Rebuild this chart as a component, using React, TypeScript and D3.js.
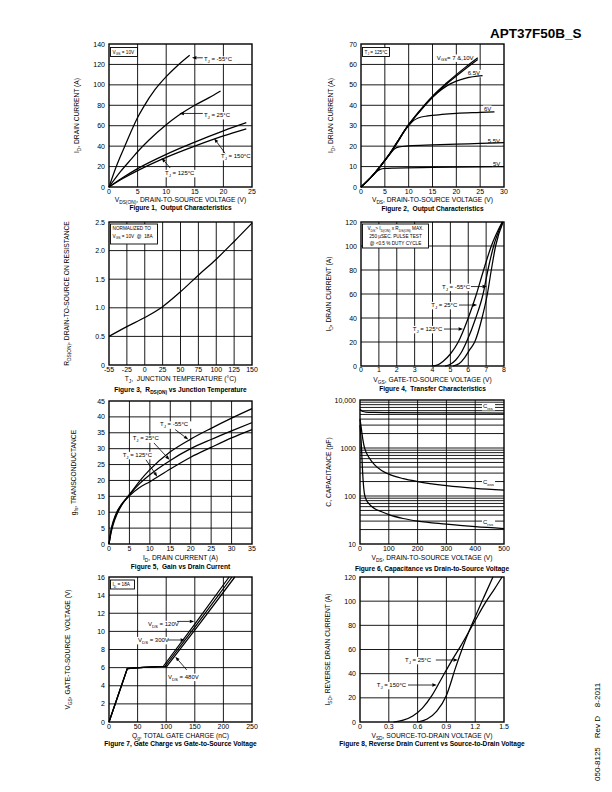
import React from 'react';
import * as d3 from 'd3';

type Pt = [number, number];

const FONT = "'Liberation Sans', Arial, Helvetica, sans-serif";

// ---------------- Figure 1 : Output characteristics (VGS = 10V)
const f1XTicks = [0, 5, 10, 15, 20, 25];
const f1YTicks = [0, 20, 40, 60, 80, 100, 120, 140];
const f1TjM55: Pt[] = [[0, 0], [1, 16], [2, 30], [3, 43], [4, 56], [5, 68], [6, 78], [8, 95], [10, 108], [12, 119], [14.1, 129]];
const f1Tj25: Pt[] = [[0, 0], [2, 15], [4, 28], [5, 34.5], [7, 46], [10, 61], [12, 69.5], [15, 80], [17.5, 87.5], [19.5, 94]];
const f1Tj125: Pt[] = [[0, 0], [2.5, 9.5], [5, 18], [10, 32], [15, 44], [20, 55], [24, 63]];
const f1Tj150: Pt[] = [[0, 0], [2.5, 8.5], [5, 16], [10, 29], [15, 40], [20, 50], [24, 57]];

// ---------------- Figure 2 : Output characteristics (TJ = 125C)
const f2XTicks = [0, 5, 10, 15, 20, 25, 30];
const f2YTicks = [0, 10, 20, 30, 40, 50, 60, 70];
const f2Vgs10: Pt[] = [[0, 0], [2, 4.5], [4, 10], [6, 16.2], [8, 23.5], [10, 30.5], [12, 36.5], [15, 44.5], [18, 51], [20, 55], [22, 58.8], [24.5, 63.3]];
const f2Vgs7: Pt[] = [[0, 0], [2, 4.5], [4, 10], [6, 16.2], [8, 23.5], [10, 30.5], [12, 36.3], [15, 44], [18, 50.5], [20, 54.3], [22, 58], [24.5, 62.4]];
const f2Vgs65: Pt[] = [[0, 0], [2, 4.5], [4, 10], [6, 16.2], [8, 23.5], [10, 30.5], [12, 36], [14, 41.5], [16, 46], [18, 49.5], [20, 51.8], [22, 53.3], [25.5, 54.5]];
const f2Vgs6: Pt[] = [[0, 0], [2, 4.5], [4, 10], [6, 16], [8, 23], [9, 27], [10, 30], [11, 32.5], [12, 33.8], [14, 34.8], [17, 35.5], [20, 36], [25, 36.5], [28, 36.8]];
const f2Vgs55: Pt[] = [[0, 0], [2, 4.5], [4, 10], [5, 13], [6, 16], [7, 18.6], [8, 19.6], [10, 20.1], [15, 20.6], [20, 21], [25, 21.3], [30, 21.7]];
const f2Vgs5: Pt[] = [[0, 0], [2, 4.5], [3, 7], [4, 8.6], [5, 9.1], [7, 9.3], [15, 9.6], [30, 10]];

// ---------------- Figure 3 : RDS(ON) vs junction temperature
const f3XTicks = [-55, -25, 0, 25, 50, 75, 100, 125, 150];
const f3XLabels = ['-55', '-25', '0', '25', '50', '75', '100', '125', '150'];
const f3YTicks = [0, 0.5, 1.0, 1.5, 2.0, 2.5];
const f3YLabels = ['0', '0.5', '1.0', '1.5', '2.0', '2.5'];
const f3Rds: Pt[] = [[-55, 0.5], [-25, 0.67], [0, 0.83], [25, 1.02], [50, 1.28], [75, 1.57], [100, 1.85], [125, 2.16], [150, 2.48]];

// ---------------- Figure 4 : Transfer characteristics
const f4XTicks = [0, 1, 2, 3, 4, 5, 6, 7, 8];
const f4YTicks = [0, 20, 40, 60, 80, 100, 120];
const f4Tj125: Pt[] = [[3.95, 0], [4.3, 1], [4.6, 4], [5, 10], [5.44, 20], [6, 40], [6.46, 60], [6.86, 80], [7.29, 100], [7.9, 120]];
const f4Tj25: Pt[] = [[4.7, 0], [5.0, 1.5], [5.3, 5], [5.6, 11], [5.9, 20], [6.42, 40], [6.83, 60], [7.1, 80], [7.42, 100], [7.92, 120]];
const f4TjM55: Pt[] = [[5.15, 0], [5.5, 2], [5.8, 7], [6.1, 14], [6.36, 20], [6.77, 40], [7.07, 60], [7.29, 80], [7.53, 100], [7.95, 120]];

// ---------------- Figure 5 : Gain vs drain current
const f5XTicks = [0, 5, 10, 15, 20, 25, 30, 35];
const f5YTicks = [0, 5, 10, 15, 20, 25, 30, 35, 40, 45];
const f5TjM55: Pt[] = [[0, 0], [0.5, 3.5], [1, 6], [2, 9.5], [3, 12], [5, 15.5], [7.5, 19.8], [10, 23.4], [15, 29], [20, 33], [25, 36.4], [30, 39.6], [35, 42.6]];
const f5Tj25: Pt[] = [[0, 0], [0.5, 4], [1, 6.5], [2, 10], [3, 12.3], [5, 15.5], [7.5, 19], [10, 21.8], [15, 26.3], [20, 30], [25, 32.9], [30, 35.6], [35, 38.2]];
const f5Tj125: Pt[] = [[0, 0], [0.5, 4.5], [1, 7], [2, 10.3], [3, 12.3], [5, 15.2], [7.5, 17.8], [10, 19.6], [15, 23.6], [20, 27.3], [25, 30.4], [30, 33.4], [35, 36]];

// ---------------- Figure 6 : Capacitance vs drain-to-source voltage
const f6XTicks = [0, 100, 200, 300, 400, 500];
const f6YTicks = [10, 100, 1000, 10000];
const f6YLabels = ['10', '100', '1000', '10,000'];
const f6Ciss: Pt[] = [[0, 6400], [5, 6000], [10, 5750], [20, 5600], [50, 5500], [100, 5450], [300, 5400], [500, 5350]];
const f6Coss: Pt[] = [[0, 4000], [3, 3000], [6, 2200], [10, 1500], [15, 1050], [20, 850], [30, 650], [50, 450], [75, 340], [100, 285], [150, 230], [200, 200], [300, 165], [400, 145], [500, 133]];
const f6Crss: Pt[] = [[0, 3000], [3, 1800], [6, 800], [9, 320], [12, 170], [15, 115], [20, 88], [30, 70], [50, 55], [75, 47], [100, 41], [150, 34], [200, 30], [300, 26], [400, 23], [500, 21]];

// ---------------- Figure 7 : Gate charge
const f7XTicks = [0, 50, 100, 150, 200, 250];
const f7YTicks = [0, 2, 4, 6, 8, 10, 12, 14, 16];
const f7Vds120: Pt[] = [[0, 0], [32, 5.9], [60, 6.02], [95, 6.15], [150, 10.8], [210, 16]];
const f7Vds300: Pt[] = [[0, 0], [32, 5.9], [60, 6.02], [98, 6.15], [154, 10.8], [215, 16]];
const f7Vds480: Pt[] = [[0, 0], [32, 5.9], [60, 6.02], [101, 6.15], [158, 10.8], [220, 16]];

// ---------------- Figure 8 : Reverse drain current
const f8XTicks = [0, 0.3, 0.6, 0.9, 1.2, 1.5];
const f8XLabels = ['0', '0.3', '0.6', '0.9', '1.2', '1.5'];
const f8YTicks = [0, 20, 40, 60, 80, 100, 120];
const f8Tj25: Pt[] = [[0.6, 0], [0.7, 2.5], [0.8, 9], [0.9, 22], [1.0, 46], [1.1, 68], [1.2, 87], [1.3, 105], [1.385, 120]];
const f8Tj150: Pt[] = [[0.35, 0], [0.45, 1.5], [0.55, 5], [0.65, 11.5], [0.75, 22], [0.85, 36], [0.95, 50], [1.05, 63], [1.2, 84], [1.3, 98], [1.4, 110], [1.48, 120]];

// ---------------------------------------------------------------
function Rich(props: { x: number; y: number; text: string; size: number; anchor?: string; weight?: string | number; rotate?: number }) {
  const { x, y, text, size, anchor = 'start', weight = 'normal', rotate = 0 } = props;
  const parts = text.split(/(_\{[^}]*\})/).filter((s) => s.length > 0);
  const shift = size * 0.32;
  let sub = false;
  const spans = parts.map((p, i) => {
    const isSub = p.startsWith('_{');
    const t = isSub ? p.slice(2, -1) : p;
    let dy = 0;
    if (isSub && !sub) dy = shift;
    else if (!isSub && sub) dy = -shift;
    sub = isSub;
    return (
      <tspan key={i} dy={dy} fontSize={isSub ? size * 0.72 : size}>
        {t}
      </tspan>
    );
  });
  return (
    <text
      x={x}
      y={y}
      fontSize={size}
      fontFamily={FONT}
      fontWeight={weight as any}
      textAnchor={anchor as any}
      transform={rotate ? `rotate(${rotate} ${x} ${y})` : undefined}
      fill="#000"
      style={{ whiteSpace: 'pre' }}
    >
      {spans}
    </text>
  );
}

function textWidth(text: string, size: number) {
  let w = 0;
  const parts = text.split(/(_\{[^}]*\})/).filter((s) => s.length > 0);
  parts.forEach((p) => {
    if (p.startsWith('_{')) w += p.slice(2, -1).length * 0.6 * size * 0.72;
    else w += p.length * 0.55 * size;
  });
  return w;
}

function Arrow({ x1, y1, x2, y2 }: { x1: number; y1: number; x2: number; y2: number }) {
  const a = Math.atan2(y2 - y1, x2 - x1);
  const L = 4.5;
  const W = 1.7;
  const bx = x2 - L * Math.cos(a);
  const by = y2 - L * Math.sin(a);
  const pts = `${x2},${y2} ${bx - W * Math.sin(a)},${by + W * Math.cos(a)} ${bx + W * Math.sin(a)},${by - W * Math.cos(a)}`;
  return (
    <g>
      <line x1={x1} y1={y1} x2={bx} y2={by} stroke="#000" strokeWidth={0.8} />
      <polygon points={pts} fill="#000" />
    </g>
  );
}

interface Ann {
  text: string;
  at: Pt;
  tail?: Pt;
  head?: Pt;
}

interface PanelCfg {
  frame: [number, number, number, number];
  xScale: (r: [number, number]) => any;
  yScale: (r: [number, number]) => any;
  xGrid: number[];
  yGrid: number[];
  xTicks: number[];
  xLabels: string[];
  yTicks: number[];
  yLabels: string[];
  curves: Pt[][];
  smooth?: boolean;
  anns: Ann[];
  legend?: { lines: string[]; w: number; h: number; center?: boolean; dy?: number };
  xTitle: string;
  yTitle: string;
  yTitleX: number;
  title: string;
  tickDy: number;
  xTitleDy: number;
  titleDy: number;
}

function Panel({ cfg }: { cfg: PanelCfg }) {
  const [x0, y0, x1, y1] = cfg.frame;
  const xs = cfg.xScale([x0, x1]);
  const ys = cfg.yScale([y1, y0]);
  const line = d3
    .line<Pt>()
    .x((d) => xs(d[0]))
    .y((d) => ys(d[1]))
    .curve(cfg.smooth === false ? d3.curveLinear : d3.curveMonotoneX);
  const cx = (x0 + x1) / 2;
  const cy = (y0 + y1) / 2;
  const annSize = 6;
  return (
    <g>
      {cfg.xGrid.map((v, i) => (
        <line key={'gx' + i} x1={xs(v)} x2={xs(v)} y1={y0} y2={y1} stroke="#000" strokeWidth={0.9} />
      ))}
      {cfg.yGrid.map((v, i) => (
        <line key={'gy' + i} x1={x0} x2={x1} y1={ys(v)} y2={ys(v)} stroke="#000" strokeWidth={0.9} />
      ))}
      {cfg.anns.map((a, i) => {
        const tx = xs(a.at[0]);
        const ty = ys(a.at[1]);
        const w = textWidth(a.text, annSize);
        return (
          <g key={'an' + i}>
            <rect x={tx - 1} y={ty - annSize * 0.85} width={w + 2} height={annSize * 1.25} fill="#fff" />
            <Rich x={tx} y={ty} text={a.text} size={annSize} />
          </g>
        );
      })}
      {cfg.curves.map((c, i) => (
        <path key={'c' + i} d={line(c) || ''} fill="none" stroke="#000" strokeWidth={1.25} />
      ))}
      {cfg.anns.map((a, i) =>
        a.tail && a.head ? (
          <Arrow key={'ar' + i} x1={xs(a.tail[0])} y1={ys(a.tail[1])} x2={xs(a.head[0])} y2={ys(a.head[1])} />
        ) : null
      )}
      <rect x={x0} y={y0} width={x1 - x0} height={y1 - y0} fill="none" stroke="#000" strokeWidth={1.4} />
      {cfg.legend && (
        <g>
          <rect x={x0 + 1.5} y={y0 + (cfg.legend.dy ?? 3)} width={cfg.legend.w} height={cfg.legend.h} fill="#fff" stroke="#000" strokeWidth={0.9} />
          {cfg.legend.lines.map((l, i) => (
            <Rich
              key={'lg' + i}
              x={cfg.legend!.center ? x0 + 1.5 + cfg.legend!.w / 2 : x0 + 3.5}
              y={y0 + (cfg.legend!.dy ?? 3) + 6 + i * 7.5}
              text={l}
              size={4.7}
              anchor={cfg.legend!.center ? 'middle' : 'start'}
            />
          ))}
        </g>
      )}
      {cfg.xTicks.map((v, i) => (
        <text key={'xt' + i} x={xs(v)} y={y1 + cfg.tickDy} fontSize={7} fontFamily={FONT} textAnchor="middle">
          {cfg.xLabels[i]}
        </text>
      ))}
      {cfg.yTicks.map((v, i) => (
        <text key={'yt' + i} x={x0 - 4} y={ys(v) + 2.5} fontSize={7} fontFamily={FONT} textAnchor="end">
          {cfg.yLabels[i]}
        </text>
      ))}
      <Rich x={cx} y={y1 + cfg.xTitleDy} text={cfg.xTitle} size={6.7} anchor="middle" />
      <Rich x={cfg.yTitleX} y={cy} text={cfg.yTitle} size={6.7} anchor="middle" rotate={-90} />
      <Rich x={cx} y={y1 + cfg.titleDy} text={cfg.title} size={6.6} anchor="middle" weight="bold" />
    </g>
  );
}

const lin = (dom: [number, number]) => (r: [number, number]) => d3.scaleLinear().domain(dom).range(r);
const str = (a: number[]) => a.map((v) => String(v));
const inner = (a: number[]) => a.slice(1, -1);

const panels: PanelCfg[] = [
  {
    frame: [109, 44, 252, 187],
    xScale: lin([0, 25]),
    yScale: lin([0, 140]),
    xGrid: inner(f1XTicks),
    yGrid: inner(f1YTicks),
    xTicks: f1XTicks,
    xLabels: str(f1XTicks),
    yTicks: f1YTicks,
    yLabels: str(f1YTicks),
    curves: [f1TjM55, f1Tj25, f1Tj125, f1Tj150],
    anns: [
      { text: 'T_{J} = -55°C', at: [16.6, 123], tail: [16.4, 126.5], head: [14.5, 126.5] },
      { text: 'T_{J} = 25°C', at: [16.6, 68.5], tail: [16.4, 72], head: [12.3, 72] },
      { text: 'T_{J} = 150°C', at: [19.6, 28.4], tail: [20.3, 33], head: [18.4, 47.5] },
      { text: 'T_{J} = 125°C', at: [9.8, 11.8], tail: [10.7, 18.6], head: [9.2, 28.5] },
    ],
    legend: { lines: ['V_{GS} = 10V'], w: 27, h: 9, dy: 3.5 },
    xTitle: 'V_{DS(ON)}, DRAIN-TO-SOURCE VOLTAGE (V)',
    yTitle: 'I_{D}, DRAIN CURRENT (A)',
    yTitleX: 79,
    title: 'Figure 1,  Output Characteristics',
    tickDy: 7,
    xTitleDy: 14.5,
    titleDy: 22.5,
  },
  {
    frame: [361, 44, 504, 187],
    xScale: lin([0, 30]),
    yScale: lin([0, 70]),
    xGrid: inner(f2XTicks),
    yGrid: inner(f2YTicks),
    xTicks: f2XTicks,
    xLabels: str(f2XTicks),
    yTicks: f2YTicks,
    yLabels: str(f2YTicks),
    curves: [f2Vgs10, f2Vgs7, f2Vgs65, f2Vgs6, f2Vgs55, f2Vgs5],
    anns: [
      { text: 'V_{GS}= 7 &,10V', at: [15.9, 62.4] },
      { text: '6.5V', at: [22.4, 54.9] },
      { text: '6V', at: [25.8, 37.4] },
      { text: '5.5V', at: [26.6, 21.6] },
      { text: '5V', at: [27.7, 10.4] },
    ],
    legend: { lines: ['T_{J} = 125°C'], w: 27, h: 9, dy: 3.5 },
    xTitle: 'V_{DS}, DRAIN-TO-SOURCE VOLTAGE (V)',
    yTitle: 'I_{D}, DRIAN CURRENT (A)',
    yTitleX: 332.5,
    title: 'Figure 2,  Output Characteristics',
    tickDy: 7,
    xTitleDy: 14.5,
    titleDy: 23.5,
  },
  {
    frame: [109, 222, 252, 365],
    xScale: (r) => d3.scaleLinear().domain([-55, -25, 150]).range([r[0], r[0] + (r[1] - r[0]) / 8, r[1]]),
    yScale: lin([0, 2.5]),
    xGrid: inner(f3XTicks),
    yGrid: inner(f3YTicks),
    xTicks: f3XTicks,
    xLabels: f3XLabels,
    yTicks: f3YTicks,
    yLabels: f3YLabels,
    curves: [f3Rds],
    anns: [],
    legend: { lines: ['NORMALIZED TO', 'V_{GS} = 10V  @  18A'], w: 47, h: 20, dy: 2 },
    xTitle: 'T_{J},  JUNCTION TEMPERATURE (°C)',
    yTitle: 'R_{DS(ON)}, DRAIN-TO-SOURCE ON RESISTANCE',
    yTitleX: 69,
    title: 'Figure 3,  R_{DS(ON)} vs Junction Temperature',
    tickDy: 6.5,
    xTitleDy: 15.5,
    titleDy: 27,
  },
  {
    frame: [361, 222, 504, 366],
    xScale: lin([0, 8]),
    yScale: lin([0, 120]),
    xGrid: inner(f4XTicks),
    yGrid: inner(f4YTicks),
    xTicks: f4XTicks,
    xLabels: str(f4XTicks),
    yTicks: f4YTicks,
    yLabels: str(f4YTicks),
    curves: [f4Tj125, f4Tj25, f4TjM55],
    anns: [
      { text: 'T_{J} = -55°C', at: [4.53, 64.4], tail: [6.15, 66.2], head: [7.05, 66.2] },
      { text: 'T_{J} = 25°C', at: [3.93, 49.2], tail: [5.48, 50.8], head: [6.5, 50.8] },
      { text: 'T_{J} = 125°C', at: [2.9, 29.2], tail: [4.64, 30.8], head: [5.71, 30.8] },
    ],
    legend: { lines: ['V_{DS}> I_{D(ON)} x R_{DS(ON)} MAX.', '250 µSEC. PULSE TEST', '@ <0.5 % DUTY CYCLE'], w: 66, h: 24, center: true, dy: 2 },
    xTitle: 'V_{GS}, GATE-TO-SOURCE VOLTAGE (V)',
    yTitle: 'I_{D}, DRAIN CURRENT (A)',
    yTitleX: 330.5,
    title: 'Figure 4,  Transfer Characteristics',
    tickDy: 5.5,
    xTitleDy: 15.5,
    titleDy: 24.5,
  },
  {
    frame: [109, 401, 252, 544],
    xScale: lin([0, 35]),
    yScale: lin([0, 45]),
    xGrid: inner(f5XTicks),
    yGrid: inner(f5YTicks),
    xTicks: f5XTicks,
    xLabels: str(f5XTicks),
    yTicks: f5YTicks,
    yLabels: str(f5YTicks),
    curves: [f5TjM55, f5Tj25, f5Tj125],
    anns: [
      { text: 'T_{J} = -55°C', at: [12.5, 37.0], tail: [16.2, 36.0], head: [19.4, 32.9] },
      { text: 'T_{J} = 25°C', at: [5.8, 32.6], tail: [11.0, 31.8], head: [14.8, 26.5] },
      { text: 'T_{J} = 125°C', at: [3.35, 27.4], tail: [9.05, 26.5], head: [11.8, 21.2] },
    ],
    xTitle: 'I_{D}, DRAIN CURRENT (A)',
    yTitle: 'g_{fs}, TRANSCONDUCTANCE',
    yTitleX: 75.5,
    title: 'Figure 5,  Gain vs Drain Current',
    tickDy: 7,
    xTitleDy: 16,
    titleDy: 25,
  },
  {
    frame: [360, 400, 504, 544],
    xScale: lin([0, 500]),
    yScale: (r) => d3.scaleLog().domain([10, 10000]).range(r),
    xGrid: inner(f6XTicks),
    yGrid: d3.range(1, 4).flatMap((e) => d3.range(1, 10).map((m) => m * Math.pow(10, e))).filter((v) => v > 10),
    xTicks: f6XTicks,
    xLabels: str(f6XTicks),
    yTicks: f6YTicks,
    yLabels: f6YLabels,
    curves: [f6Ciss, f6Coss, f6Crss],
    anns: [
      { text: 'C_{iss}', at: [427, 6800] },
      { text: 'C_{oss}', at: [427, 178] },
      { text: 'C_{rss}', at: [427, 26] },
    ],
    xTitle: 'V_{DS}, DRAIN-TO-SOURCE VOLTAGE (V)',
    yTitle: 'C, CAPACITANCE (pF)',
    yTitleX: 330.5,
    title: 'Figure 6, Capacitance vs Drain-to-Source Voltage',
    tickDy: 7,
    xTitleDy: 16,
    titleDy: 26.5,
  },
  {
    frame: [109, 577, 252, 722],
    xScale: lin([0, 250]),
    yScale: lin([0, 16]),
    xGrid: inner(f7XTicks),
    yGrid: inner(f7YTicks),
    xTicks: f7XTicks,
    xLabels: str(f7XTicks),
    yTicks: f7YTicks,
    yLabels: str(f7YTicks),
    curves: [f7Vds120, f7Vds300, f7Vds480],
    smooth: false,
    anns: [
      { text: 'V_{DS} = 120V', at: [68, 10.6], tail: [119, 11.1], head: [149, 11.1] },
      { text: 'V_{DS} = 300V', at: [50.7, 8.83], tail: [103, 9.05], head: [133, 9.05] },
      { text: 'V_{DS} = 480V', at: [103, 4.78], tail: [136, 5.74], head: [116, 7.2] },
    ],
    legend: { lines: ['I_{D} = 18A'], w: 24, h: 9, dy: 3 },
    xTitle: 'Q_{g}, TOTAL GATE CHARGE (nC)',
    yTitle: 'V_{GS}, GATE-TO-SOURCE  VOLTAGE (V)',
    yTitleX: 69.5,
    title: 'Figure 7, Gate Charge vs Gate-to-Source Voltage',
    tickDy: 6.5,
    xTitleDy: 15.5,
    titleDy: 24,
  },
  {
    frame: [360, 577, 504, 722],
    xScale: lin([0, 1.5]),
    yScale: lin([0, 120]),
    xGrid: inner(f8XTicks),
    yGrid: inner(f8YTicks),
    xTicks: f8XTicks,
    xLabels: f8XLabels,
    yTicks: f8YTicks,
    yLabels: str(f8YTicks),
    curves: [f8Tj25, f8Tj150],
    anns: [
      { text: 'T_{J} = 25°C', at: [0.469, 49.7], tail: [0.79, 51.3], head: [1.02, 51.3] },
      { text: 'T_{J} = 150°C', at: [0.174, 29], tail: [0.5, 30.6], head: [0.8, 30.6] },
    ],
    xTitle: 'V_{SD}, SOURCE-TO-DRAIN VOLTAGE (V)',
    yTitle: 'I_{SD}, REVERSE DRAIN CURRENT (A)',
    yTitleX: 329.5,
    title: 'Figure 8, Reverse Drain Current vs Source-to-Drain Voltage',
    tickDy: 6.5,
    xTitleDy: 15.5,
    titleDy: 24,
  },
];

export default function App() {
  return (
    <svg
      width={612}
      height={792}
      viewBox="0 0 612 792"
      style={{ position: 'absolute', left: 0, top: 0, background: '#fff' }}
    >
      <rect x={0} y={0} width={612} height={792} fill="#fff" />
      <text x={490} y={37.5} fontSize={13.5} fontWeight="bold" fontFamily={FONT} textAnchor="start">
        APT37F50B_S
      </text>
      {panels.map((p, i) => (
        <Panel key={i} cfg={p} />
      ))}
      <text x={600} y={781} fontSize={8} fontFamily={FONT} transform="rotate(-90 600 781)" style={{ whiteSpace: 'pre' }}>
        050-8125    Rev D    8-2011
      </text>
    </svg>
  );
}
